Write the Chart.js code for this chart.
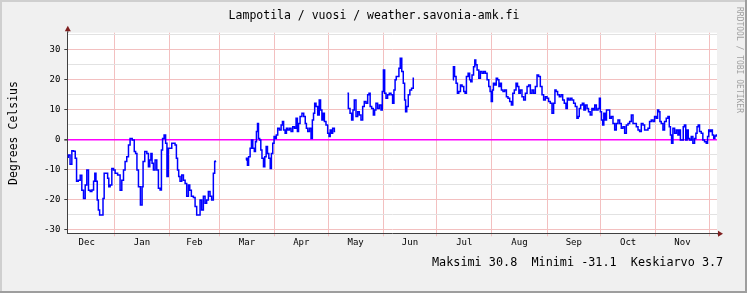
<!DOCTYPE html>
<html>
<head>
<meta charset="utf-8">
<script src="https://cdn.jsdelivr.net/npm/chart.js@4.4.1/dist/chart.umd.min.js"></script>
<style>
  html, body { margin: 0; padding: 0; background: #f0f0f0; }
  #wrap { width: 747px; height: 293px; }
</style>
</head>
<body>
<div id="wrap"><canvas id="temp_chart" width="747" height="293"></canvas></div>
<script>
// Lampotila / vuosi - weather.savonia-amk.fi
// days = days from Jan 1 (negative = December of the previous year), null temp = no data

const days = [
  -26.2, -25.4, -24.3, -23.4, -22.4, -21.5, -20.9, -19.6, -18.7, -17.8, -16.8, -15.9, -15.0, -14.0,
  -13.1, -12.1, -11.2, -10.7, -9.9, -9.3, -8.6, -7.9, -6.5, -6.2, -5.2, -4.1, -3.4, -2.8, -1.9, -0.9,
  0, 0.9, 2.8, 3.7, 4.7, 5.6, 6.5, 7.5, 8.4, 9.3, 10.8, 11.6, 12.3, 13.1, 14.0, 15.3, 15.9, 16.4,
  17.8, 18.7, 19.6, 20.2, 20.9, 21.5, 22.4, 23.4, 24.3, 25.2, 26.2, 26.7, 27.5, 28.4, 29.2, 29.9,
  30.7, 31.8, 32.7, 33.6, 34.6, 35.1, 35.9, 36.4, 37.4, 38.3, 39.3, 40.2, 41.1, 42.1, 42.6, 43.9,
  44.9, 45.8, 46.7, 47.7, 48.6, 49.5, 50.5, 51.4, 52.3, 53.3, 54.2, 55.1, 56.1, 56.6, 57.0,
  65,
  73.9, 74.5, 75.0, 75.8, 76.7, 77.3, 78.2, 79.0, 79.5, 80.1, 80.7, 81.2, 82.0, 82.5, 83.3, 84.2,
  84.8, 85.7, 86.3, 87.2, 87.9, 88.5, 89.4, 90, 90.6, 91.3, 92.2, 93.2, 94.1, 94.7, 95.4, 96.4,
  96.9, 97.9, 98.8, 99.7, 100.7, 101.6, 102.5, 103.1, 103.8, 104.8, 105.9, 106.8, 107.6, 108.1,
  109.1, 110.0, 110.9, 111.5, 112.2, 112.8, 113.7, 114.7, 115.4, 116.2, 116.9, 117.5, 118.4, 119.3,
  120.3, 120.8, 121.6, 122.1, 123.1, 124.0,
  127,
  130.9, 131.9, 132.8, 133.7, 134.3, 135.2, 136.2, 137.1, 138.0, 139.0, 139.9, 140.8, 141.8, 142.7,
  143.3, 144.0, 145.0, 145.9, 146.4, 147.4, 148.3, 149.3, 150.2, 150.7, 151.5, 152.1, 153.0, 153.9,
  154.9, 155.8, 156.7, 157.3, 158.0, 158.6, 159.5, 160.1, 161.0, 161.8, 162.7, 163.3, 163.8, 164.6,
  165.5, 166.4, 167.4, 168.3,
  179,
  190.1, 190.7, 191.4, 192.4, 192.9, 193.9, 194.8, 195.7, 196.7, 197.2, 198.2, 199.1, 199.9, 200.4,
  201.3, 202.1, 202.7, 203.2, 204.2, 205.1, 206.0, 207.0, 207.9, 208.8, 209.8, 210.7, 211.3, 212,
  212.6, 213.1, 214.1, 214.8, 215.6, 216.3, 216.9, 217.8, 218.7, 219.7, 220.6, 221.5, 222.5, 223.4,
  224.1, 225.1, 226.0, 226.8, 227.5, 228.4, 229.4, 230.3, 231.3, 232.2, 233.1, 234.1, 235.0, 235.9,
  236.9, 237.8, 238.7, 239.7, 240.6, 241.5, 242.5, 243.4, 244.3, 245.3, 246.2, 247.1, 247.7, 248.4,
  249.4, 250.3, 251.3, 252.2, 253.1, 254.1, 254.6, 255.6, 256.5, 257.4, 258.4, 259.3, 260.2,
  260.7, 261.4, 262.3, 263.3, 264.0, 265.0, 265.9, 266.6, 267.8, 268.5, 269.3, 270.2, 271.1, 272.1,
  272.6, 273.2, 273.9, 274.5, 275.2, 276.0, 276.7, 277.7, 278.6, 279.5, 280.5, 281.4, 282.3, 283.3,
  284.2, 285.1, 286.1, 287.0, 288.0, 288.9, 289.8, 290.8, 291.7, 292.6, 293.6, 294.5, 295.4, 296.4,
  297.3, 298.2, 299.2, 300.1, 301.0, 302.0, 302.9, 303.8, 304.8, 305.3, 306.1, 306.6, 307.6, 308.5,
  309.4, 310.4, 311.3, 311.9, 312.6, 313.2, 314.1, 315.1, 316.0, 316.9, 317.5, 318.2, 319.2, 319.7,
  320.5, 321.2, 322.0, 322.5, 323.5, 324.4, 325.3, 326.3, 326.8, 327.6, 328.1, 329.1, 330.0, 330.9,
  331.9, 332.8, 333.4, 334.1, 334.7, 335.4, 336.2, 336.9, 337.5, 338.4
];

const temps = [
  -6, -5.2, -8.3, -3.8, -4, -6.3, -14, -13.6, -12, -17, -19.7, -15.2, -10.2, -17,
  -17.4, -16.9, -14, -11.3, -14, -20.2, -23.5, -25.2, -25.2, -19.7, -11.3, -11.3, -13, -15.8, -15.2, -9.7,
  -10.2, -11.3, -11.9, -17, -13.6, -10.2, -7.4, -5.8, -1.9, 0.3, -0.2, -4.1, -4.7, -10.2, -15.8, -21.9, -15.8, -7.4,
  -4.1, -4.7, -9.1, -6.9, -4.7, -8, -10.2, -6.9, -10.2, -16.3, -16.9, -3.6, 0.3, 1.4, -1.3, -12.4,
  -3, -3, -1.3, -1.3, -1.9, -6.3, -10.2, -12.4, -14, -11.9, -13.6, -14.7, -19, -15.2, -17, -19,
  -19.4, -22.4, -25.2, -25.2, -20.2, -23.5, -19, -21.3, -20.2, -17.4, -19, -20.2, -11.3, -7.4, -7.2,
  null,
  -6.9, -6.3, -8.6, -5.8, -3, -0.2, -3, -4.1, -0.8, 2.6, 5.3, 0.3, -0.2, -3.6, -6.3, -9.1,
  -5.8, -2.4, -4.7, -6.3, -9.7, -4.7, -1.3, 0.9, 0.3, 1.4, 3.7, 3.1, 4.8, 5.9, 3.1, 2,
  3.7, 3.1, 3.7, 2.6, 4.2, 3.7, 7, 2.6, 5.3, 7.6, 8.7, 7.6, 5.3, 3.7,
  2.6, 3.7, 0.3, 6.4, 8.7, 12, 10.9, 8.1, 13.1, 9.8, 6.4, 8.7, 5.9, 4.8,
  2, 0.9, 3.1, 2, 3.7, 2.6,
  null,
  15.3, 10.3, 8.7, 6.4, 9.8, 13.1, 7.6, 9.2, 8.1, 6.4, 10.9, 12.6, 12, 14.8,
  15.3, 10.9, 10.3, 8.1, 9.8, 12, 10.3, 11.4, 9.8, 15.9, 23.1, 15.3, 13.7, 14.8,
  15.3, 14.8, 12, 16.4, 19.8, 20.9, 20.9, 23.7, 27, 22.6, 18.7, 13.1, 9.2, 10.9,
  14.8, 16.4, 17, 20.3,
  null,
  19.8, 24.2, 20.9, 18.7, 15.3, 15.9, 18.1, 17.6, 15.9, 15.3, 20.9, 22, 19.8, 19.2,
  21.4, 24.2, 26.4, 24.8, 23.1, 20.3, 22.6, 22, 22.6, 22, 19.8, 17.6, 15.9, 12.6,
  16.4, 18.7, 18.1, 20.3, 19.8, 17.6, 18.7, 16.4, 15.9, 16.4, 14.2, 13.7, 12.6, 11.4,
  15.3, 16.4, 18.7, 17.6, 15.3, 16.4, 14.2, 13.1, 15.3, 17.6, 18.1, 15.3, 16.4, 15.3,
  17.6, 21.4, 20.9, 17.6, 14.8, 13.1, 14.2, 13.7, 12.6, 12, 8.7, 12, 16.4, 15.9,
  14.8, 14.2, 14.8, 13.1, 12, 10.3, 13.7, 13.1, 13.7, 13.1, 12, 10.9, 7,
  7.6, 10.3, 11.4, 12, 9.8, 11.4, 10.3, 9.2, 8.1, 10.3, 9.8, 11.4, 9.8, 10.3,
  13.7, 9.2, 6.4, 4.8, 8.7, 6.4, 9.8, 9.8, 7, 7.6, 5.3, 3.1, 5.3, 6.4,
  5.3, 3.7, 4.2, 2, 4.8, 5.3, 5.9, 8.1, 5.3, 5.3, 4.2, 3.1, 2.6, 5.3,
  4.8, 3.1, 3.1, 3.7, 5.9, 6.4, 5.9, 7.6, 7, 9.8, 9.2, 5.9, 5.3, 3.1,
  5.9, 7, 7.6, 4.2, 1.4, -1.3, 3.7, 2, 3.1, 1.4, 3.1, -0.2, -0.2, 4.2,
  4.8, -0.2, 3.1, 0.3, -0.2, 0.9, -1.3, 0.3, 2, 4.2, 4.8, 2.6, 2, -0.2,
  -0.8, -1.3, 0.9, 3.1, 2.6, 3.1, 1.4, 0.3, 1.1, 1.4
];

// month grid (day of year of each month start) and label positions (mid month)
const monthStarts = [0, 31, 59, 90, 120, 151, 181, 212, 243, 273, 304, 334];
const monthMids = [-15.5, 15.5, 45, 74.5, 105, 135.5, 166, 196.5, 227.5, 258, 288.5, 319];
const monthLabels = ["Dec", "Jan", "Feb", "Mar", "Apr", "May", "Jun", "Jul", "Aug", "Sep", "Oct", "Nov"];
const yTicks = [-30, -25, -20, -15, -10, -5, 0, 5, 10, 15, 20, 25, 30, 35];

const maxTemp = 30.8;
const minTemp = -31.1;
const avgTemp = 3.7;

const MONO = "'DejaVu Sans Mono', monospace";
const MGRID = "#f3c0c0";
const GRID = "#e2e2e2";

const rrdDecor = {
    id: "rrdDecor",
    beforeDraw(chart) {
        const ctx = chart.ctx;
        const w = chart.width, h = chart.height;
        ctx.save();
        ctx.fillStyle = "#f0f0f0";
        ctx.fillRect(0, 0, w, h);
        const a = chart.chartArea;
        ctx.fillStyle = "#ffffff";
        ctx.fillRect(a.left, a.top, a.right - a.left, a.bottom - a.top);
        // shaded frame
        ctx.fillStyle = "#cfcfcf";
        ctx.fillRect(0, 0, w, 2);
        ctx.fillRect(0, 0, 2, h);
        ctx.fillStyle = "#9e9e9e";
        ctx.fillRect(0, h - 2, w, 2);
        ctx.fillRect(w - 2, 0, 2, h);
        ctx.restore();
    },
    afterDraw(chart) {
        const ctx = chart.ctx;
        const a = chart.chartArea;
        ctx.save();
        // axis arrows
        ctx.strokeStyle = "#404040";
        ctx.lineWidth = 1;
        ctx.beginPath();
        ctx.moveTo(a.left + 0.5, a.top);
        ctx.lineTo(a.left + 0.5, a.top - 3);
        ctx.moveTo(a.right, a.bottom + 0.5);
        ctx.lineTo(a.right + 2, a.bottom + 0.5);
        ctx.stroke();
        ctx.fillStyle = "#7f1f1f";
        ctx.beginPath();
        ctx.moveTo(a.left + 0.5, a.top - 7);
        ctx.lineTo(a.left - 2.5, a.top - 1.5);
        ctx.lineTo(a.left + 3.5, a.top - 1.5);
        ctx.closePath();
        ctx.fill();
        ctx.beginPath();
        ctx.moveTo(a.right + 6, a.bottom + 0.5);
        ctx.lineTo(a.right + 1, a.bottom - 2.5);
        ctx.lineTo(a.right + 1, a.bottom + 3.5);
        ctx.closePath();
        ctx.fill();

        // title
        ctx.fillStyle = "#000";
        ctx.font = "11.5px " + MONO;
        ctx.textBaseline = "middle";
        ctx.textAlign = "center";
        ctx.fillText("Lampotila / vuosi / weather.savonia-amk.fi", 374, 16.5);

        // summary line
        ctx.font = "11.8px " + MONO;
        ctx.textAlign = "left";
        ctx.fillText("Maksimi " + maxTemp.toFixed(1) + "  Minimi " + minTemp.toFixed(1) +
            "  Keskiarvo " + avgTemp.toFixed(1), 432, 263);

        // watermark
        ctx.fillStyle = "#a0a0a0";
        ctx.font = "8px " + MONO;
        ctx.translate(739, 7);
        ctx.rotate(Math.PI / 2);
        ctx.textAlign = "left";
        ctx.fillText("RRDTOOL / TOBI OETIKER", 0, 0);
        ctx.restore();
    }
};

const tempChart = new Chart(document.getElementById("temp_chart"), {
    type: "line",
    data: {
        datasets: [{
            label: "Lampotila",
            data: days.map((d, i) => ({ x: d, y: temps[i] })),
            borderColor: "#0000ff",
            borderWidth: 1.5,
            pointRadius: 0,
            stepped: "middle",
            spanGaps: false,
            fill: false
        }]
    },
    options: {
        responsive: false,
        animation: false,
        layout: { padding: { top: 32.7, right: 30, bottom: 39.7, left: 0 } },
        plugins: {
            legend: { display: false },
            title: { display: false },
            tooltip: { enabled: false }
        },
        scales: {
            x: {
                type: "linear",
                min: -26.4,
                max: 338.4,
                afterBuildTicks: (s) => {
                    s.ticks = monthStarts.concat(monthMids)
                        .sort((p, q) => p - q)
                        .map(v => ({ value: v }));
                },
                afterFit: (s) => { s.height = 20; },
                grid: {
                    color: (c) => monthStarts.includes(c.tick.value) ? MGRID : "rgba(0,0,0,0)",
                    tickColor: (c) => monthStarts.includes(c.tick.value) ? MGRID : "rgba(0,0,0,0)",
                    tickLength: 3,
                    lineWidth: 1
                },
                border: { color: "#404040", width: 1 },
                ticks: {
                    autoSkip: false,
                    maxRotation: 0,
                    padding: 1,
                    color: "#000",
                    font: { family: MONO, size: 9 },
                    callback: (v) => {
                        const i = monthMids.indexOf(v);
                        return i >= 0 ? monthLabels[i] : "";
                    }
                }
            },
            y: {
                min: -31.3,
                max: 35.5,
                afterBuildTicks: (s) => { s.ticks = yTicks.map(v => ({ value: v })); },
                afterFit: (s) => { s.width = 67.3; },
                grid: {
                    color: (c) => c.tick.value === 0 ? "#ff00ff" : (c.tick.value % 10 === 0 ? MGRID : GRID),
                    tickColor: (c) => c.tick.value % 10 === 0 ? "#404040" : "rgba(0,0,0,0)",
                    lineWidth: (c) => c.tick.value === 0 ? 1.6 : 1,
                    tickLength: 3
                },
                border: { color: "#404040", width: 1 },
                ticks: {
                    autoSkip: false,
                    padding: 4,
                    color: "#000",
                    font: { family: MONO, size: 9 },
                    callback: (v) => v % 10 === 0 ? String(v) : ""
                },
                title: {
                    display: true,
                    text: "Degrees Celsius",
                    color: "#000",
                    font: { family: MONO, size: 11.5 },
                    padding: { top: 7.5, bottom: 0 }
                }
            }
        }
    },
    plugins: [rrdDecor]
});
</script>
</body>
</html>
